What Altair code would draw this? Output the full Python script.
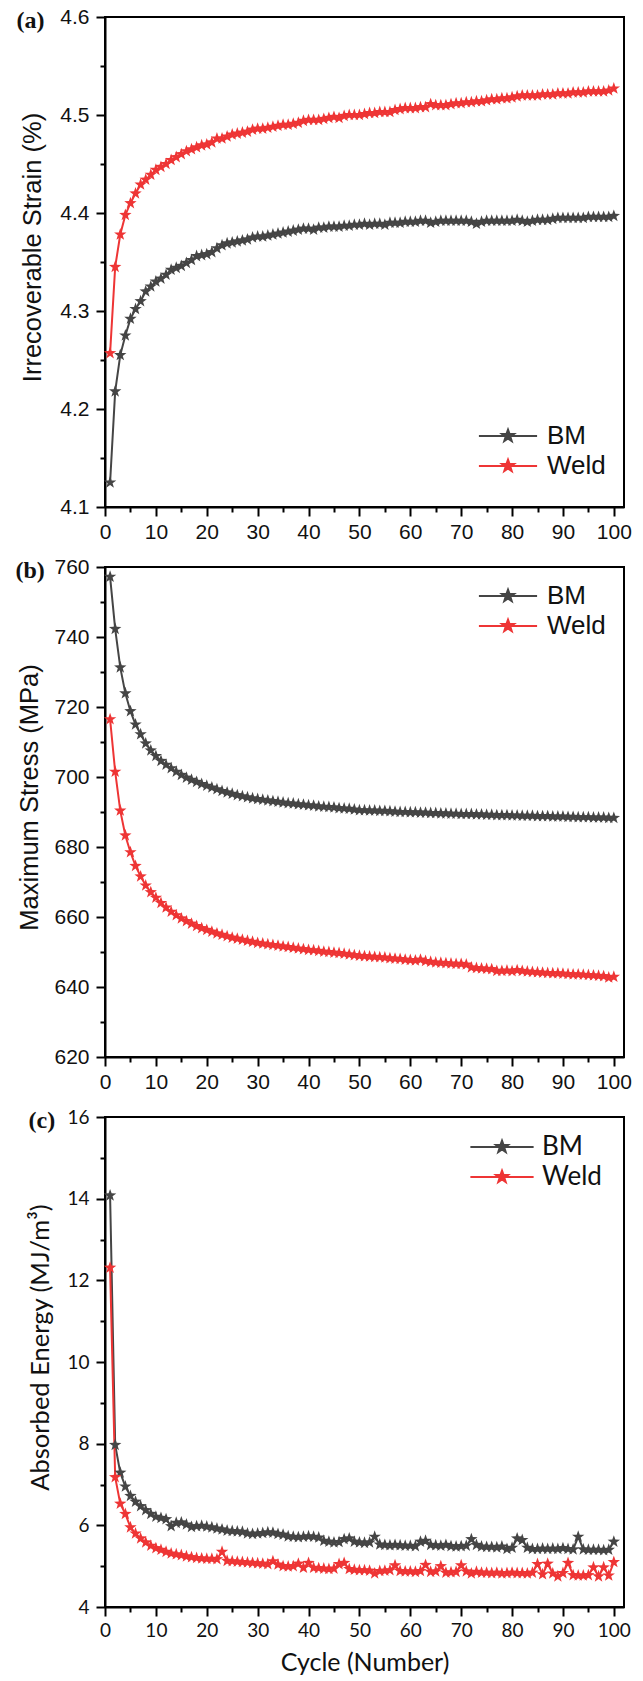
import altair as alt
import pandas as pd

cycles = list(range(1, 101))
series_names = ["BM", "Weld"]
series_colors = ["#454545", "#ee3535"]
panel_labels = ["(a)", "(b)", "(c)"]
y_titles = ["Irrecoverable Strain (%)", "Maximum Stress (MPa)", "Absorbed Energy (MJ/m³)"]
x_title = "Cycle (Number)"

x_ticks = [0, 5, 10, 15, 20, 25, 30, 35, 40, 45, 50, 55, 60, 65, 70, 75, 80, 85, 90, 95, 100]
strain_ticks = [4.1, 4.15, 4.2, 4.25, 4.3, 4.35, 4.4, 4.45, 4.5, 4.55, 4.6]
stress_ticks = [620, 630, 640, 650, 660, 670, 680, 690, 700, 710, 720, 730, 740, 750, 760]
energy_ticks = [4, 5, 6, 7, 8, 9, 10, 11, 12, 13, 14, 15, 16]

strain_bm = [4.125, 4.218, 4.255, 4.275, 4.292, 4.302, 4.310, 4.320, 4.325, 4.330,
             4.333, 4.337, 4.342, 4.344, 4.346, 4.349, 4.352, 4.356, 4.357, 4.358,
             4.360, 4.364, 4.367, 4.369, 4.370, 4.371, 4.372, 4.373, 4.375, 4.376,
             4.376, 4.377, 4.378, 4.379, 4.380, 4.381, 4.382, 4.383, 4.384, 4.384,
             4.383, 4.385, 4.385, 4.386, 4.386, 4.386, 4.387, 4.387, 4.388, 4.388,
             4.389, 4.388, 4.389, 4.389, 4.388, 4.390, 4.390, 4.390, 4.391, 4.391,
             4.391, 4.392, 4.392, 4.390, 4.391, 4.392, 4.392, 4.392, 4.392, 4.392,
             4.392, 4.391, 4.389, 4.391, 4.392, 4.392, 4.392, 4.392, 4.392, 4.392,
             4.393, 4.392, 4.391, 4.392, 4.393, 4.393, 4.393, 4.394, 4.395, 4.395,
             4.395, 4.395, 4.395, 4.395, 4.396, 4.396, 4.396, 4.396, 4.396, 4.397]
strain_weld = [4.257, 4.345, 4.378, 4.398, 4.410, 4.420, 4.429, 4.434, 4.439, 4.444,
               4.447, 4.450, 4.454, 4.457, 4.460, 4.463, 4.465, 4.467, 4.469, 4.470,
               4.472, 4.476, 4.476, 4.478, 4.480, 4.481, 4.482, 4.483, 4.485, 4.486,
               4.486, 4.487, 4.488, 4.489, 4.490, 4.490, 4.491, 4.492, 4.494, 4.495,
               4.495, 4.495, 4.496, 4.497, 4.498, 4.497, 4.499, 4.500, 4.500, 4.500,
               4.501, 4.502, 4.502, 4.503, 4.503, 4.503, 4.505, 4.506, 4.507, 4.507,
               4.507, 4.508, 4.508, 4.511, 4.510, 4.510, 4.510, 4.511, 4.512, 4.512,
               4.513, 4.513, 4.514, 4.514, 4.515, 4.516, 4.516, 4.517, 4.517, 4.518,
               4.519, 4.520, 4.520, 4.520, 4.520, 4.521, 4.521, 4.521, 4.522, 4.522,
               4.522, 4.523, 4.523, 4.523, 4.524, 4.524, 4.524, 4.524, 4.525, 4.527]

stress_bm = [757.2, 742.3, 731.3, 723.9, 718.8, 715.0, 712.2, 709.6, 707.6, 706.0,
             704.6, 703.5, 702.5, 701.5, 700.6, 699.8, 699.2, 698.6, 698.0, 697.5,
             697.0, 696.5, 696.0, 695.6, 695.2, 694.8, 694.5, 694.2, 693.9, 693.7,
             693.5, 693.3, 693.1, 692.9, 692.7, 692.5, 692.4, 692.2, 692.1, 691.9,
             691.8, 691.6, 691.5, 691.4, 691.3, 691.1, 691.0, 690.9, 690.7, 690.5,
             690.5, 690.4, 690.4, 690.3, 690.3, 690.2, 690.1, 690.0, 690.0, 689.9,
             689.9, 689.8, 689.8, 689.7, 689.7, 689.6, 689.6, 689.5, 689.5, 689.4,
             689.4, 689.4, 689.3, 689.3, 689.2, 689.2, 689.1, 689.1, 689.1, 689.0,
             689.0, 688.9, 688.9, 688.9, 688.8, 688.8, 688.8, 688.7, 688.7, 688.7,
             688.6, 688.6, 688.5, 688.5, 688.5, 688.4, 688.4, 688.4, 688.3, 688.3]
stress_weld = [716.5, 701.5, 690.4, 683.3, 678.5, 674.6, 671.6, 669.0, 667.1, 665.5,
               664.0, 662.7, 661.5, 660.5, 659.6, 658.8, 658.1, 657.4, 656.8, 656.3,
               655.8, 655.3, 654.9, 654.5, 654.1, 653.8, 653.5, 653.2, 652.9, 652.6,
               652.4, 652.2, 652.0, 651.8, 651.6, 651.4, 651.2, 651.0, 650.8, 650.6,
               650.5, 650.3, 650.1, 650.0, 649.8, 649.7, 649.5, 649.3, 649.1, 648.9,
               648.8, 648.7, 648.6, 648.5, 648.4, 648.2, 648.1, 648.0, 647.8, 647.7,
               647.6, 647.8, 647.4, 647.2, 647.0, 646.9, 646.8, 646.7, 646.6, 646.6,
               646.4, 645.6, 645.4, 645.3, 645.2, 645.1, 644.6, 644.6, 644.7, 644.5,
               644.8, 644.6, 644.4, 644.3, 644.2, 644.1, 644.0, 643.9, 643.9, 643.8,
               643.7, 643.6, 643.6, 643.5, 643.4, 643.3, 643.2, 643.1, 642.7, 642.9]

energy_bm = [14.08, 7.97, 7.29, 6.95, 6.72, 6.58, 6.47, 6.37, 6.28, 6.21,
             6.18, 6.15, 5.98, 6.06, 6.07, 6.02, 5.96, 5.98, 5.99, 5.97,
             5.95, 5.92, 5.90, 5.87, 5.86, 5.85, 5.84, 5.80, 5.79, 5.80,
             5.81, 5.83, 5.82, 5.79, 5.77, 5.73, 5.72, 5.71, 5.72, 5.73,
             5.72, 5.70, 5.62, 5.60, 5.58, 5.59, 5.66, 5.68, 5.60, 5.58,
             5.57, 5.58, 5.72, 5.53, 5.52, 5.51, 5.52, 5.51, 5.50, 5.50,
             5.49, 5.60, 5.62, 5.52, 5.51, 5.50, 5.52, 5.49, 5.48, 5.49,
             5.50, 5.66, 5.52, 5.48, 5.47, 5.47, 5.46, 5.48, 5.42, 5.45,
             5.68, 5.64, 5.45, 5.42, 5.42, 5.43, 5.42, 5.43, 5.42, 5.44,
             5.42, 5.41, 5.72, 5.41, 5.40, 5.40, 5.40, 5.39, 5.40, 5.60]
energy_weld = [12.31, 7.18, 6.53, 6.28, 5.95, 5.80, 5.68, 5.58, 5.50, 5.44,
               5.40, 5.35, 5.31, 5.29, 5.27, 5.24, 5.22, 5.20, 5.19, 5.18,
               5.18, 5.17, 5.35, 5.13, 5.12, 5.11, 5.10, 5.09, 5.08, 5.07,
               5.06, 5.05, 5.12, 5.04, 5.00, 4.99, 5.00, 5.06, 4.96, 5.08,
               4.96, 4.95, 4.94, 4.93, 4.94, 5.05, 5.08, 4.93, 4.91, 4.90,
               4.90, 4.89, 4.82, 4.88, 4.89, 4.90, 5.02, 4.88, 4.87, 4.87,
               4.86, 4.88, 5.03, 4.86, 4.87, 5.00, 4.84, 4.85, 4.86, 5.02,
               4.87, 4.82, 4.86, 4.84, 4.84, 4.83, 4.84, 4.82, 4.83, 4.84,
               4.83, 4.83, 4.82, 4.84, 5.05, 4.80, 5.06, 4.82, 4.75, 4.83,
               5.08, 4.78, 4.77, 4.77, 4.78, 4.97, 4.75, 4.97, 4.77, 5.10]

STAR = ("M0,-1L0.235,-0.324L0.951,-0.309L0.38,0.124L0.588,0.809L0,0.4"
        "L-0.588,0.809L-0.38,0.124L-0.951,-0.309L-0.235,-0.324Z")

W, H = 519, 490


def long_df(bm, weld):
    return pd.DataFrame({
        "cycle": cycles + cycles,
        "series": [series_names[0]] * len(bm) + [series_names[1]] * len(weld),
        "value": bm + weld,
    })


def panel(df, ydomain, yticks, major_test, label_fmt, ytitle, title_x, letter, letter_x,
          font, tick_font_size, leg_x, leg_y, leg_half, label_offset, show_x_title):
    x_axis = alt.Axis(
        values=x_ticks,
        labelExpr="datum.value % 10 === 0 ? datum.label : ''",
        tickSize={"condition": {"test": "datum.value % 10 === 0", "value": 9}, "value": 5},
        tickColor="black", tickWidth=2, domainColor="black", domainWidth=2,
        labelFont=font, labelFontSize=tick_font_size, labelColor="#111111",
        labelPadding=5, labelOverlap=False, labelFlush=False, grid=False,
        title=x_title if show_x_title else None,
        titleFont=font, titleFontSize=25, titleFontWeight="normal", titleColor="#111111",
        titleY=55, titleBaseline="middle",
    )
    y_axis = alt.Axis(
        values=yticks,
        labelExpr=f"({major_test}) ? format(datum.value, '{label_fmt}') : ''",
        tickSize={"condition": {"test": major_test, "value": 9}, "value": 5},
        tickColor="black", tickWidth=2, domainColor="black", domainWidth=2,
        labelFont=font, labelFontSize=tick_font_size, labelColor="#111111",
        labelPadding=7, labelOverlap=False, labelFlush=False, grid=False,
        title=ytitle, titleFont=font, titleFontSize=25.5, titleFontWeight="normal",
        titleColor="#111111", titleX=title_x, titleY=230, titleAngle=270,
        titleAlign="center", titleBaseline="middle",
    )
    base = alt.Chart(df).encode(
        x=alt.X("cycle:Q", scale=alt.Scale(domain=[0, 102], nice=False, zero=False), axis=x_axis),
        y=alt.Y("value:Q", scale=alt.Scale(domain=ydomain, nice=False, zero=False), axis=y_axis),
    )
    leg_common = dict(
        orient="none", legendX=leg_x, legendY=leg_y, title=None, symbolSize=160,
        symbolStrokeWidth=2, labelFont=font, labelFontSize=26, labelColor="#111111",
        labelOffset=label_offset, rowPadding=4, padding=0,
    )
    leg_symbol = f"M-{leg_half},0H{leg_half}" + STAR
    line = base.mark_line(strokeWidth=2).encode(
        color=alt.Color("series:N", scale=alt.Scale(domain=series_names, range=series_colors),
                        legend=alt.Legend(symbolType=leg_symbol, **leg_common)),
    )
    pts = base.mark_point(filled=True, shape=STAR, size=170, opacity=1).encode(
        fill=alt.Fill("series:N", scale=alt.Scale(domain=series_names, range=series_colors),
                      legend=alt.Legend(symbolType=leg_symbol, **leg_common)),
    )
    lab = alt.Chart(pd.DataFrame({"t": [letter]})).mark_text(
        font="Liberation Serif", fontWeight="bold", fontSize=24, align="left",
        baseline="middle", color="#111111",
    ).encode(text="t:N", x=alt.value(letter_x), y=alt.value(4))
    return alt.layer(line, pts, lab).properties(width=W, height=H)


pa = panel(long_df(strain_bm, strain_weld), [4.1, 4.6], strain_ticks,
           "abs(round(datum.value * 20)) % 2 === 0", ".1f", y_titles[0], -72.5,
           panel_labels[0], -88.5, "Liberation Sans", 21, 390, 406, 4.6, 26, False)
pb = panel(long_df(stress_bm, stress_weld), [620, 760], stress_ticks,
           "datum.value % 20 === 0", "d", y_titles[1], -76,
           panel_labels[1], -89.5, "Liberation Sans", 21, 390, 16, 4.6, 26, False)
pc = panel(long_df(energy_bm, energy_weld), [4, 16], energy_ticks,
           "datum.value % 2 === 0", "d", y_titles[2], -64.5,
           panel_labels[2], -76.5, "Lato", 19, 384, 17, 5.0, 27, True)

chart = alt.vconcat(pa, pb, pc, spacing=60, bounds="flush").resolve_scale(
    x="independent", y="independent", color="independent", fill="independent"
).resolve_legend(color="independent", fill="independent").configure_view(
    stroke="black", strokeWidth=2
).properties(padding={"left": 14, "top": 5, "right": 5, "bottom": 2}, background="white")

chart.save("out.html", embed_options={"renderer": "svg", "actions": False})
